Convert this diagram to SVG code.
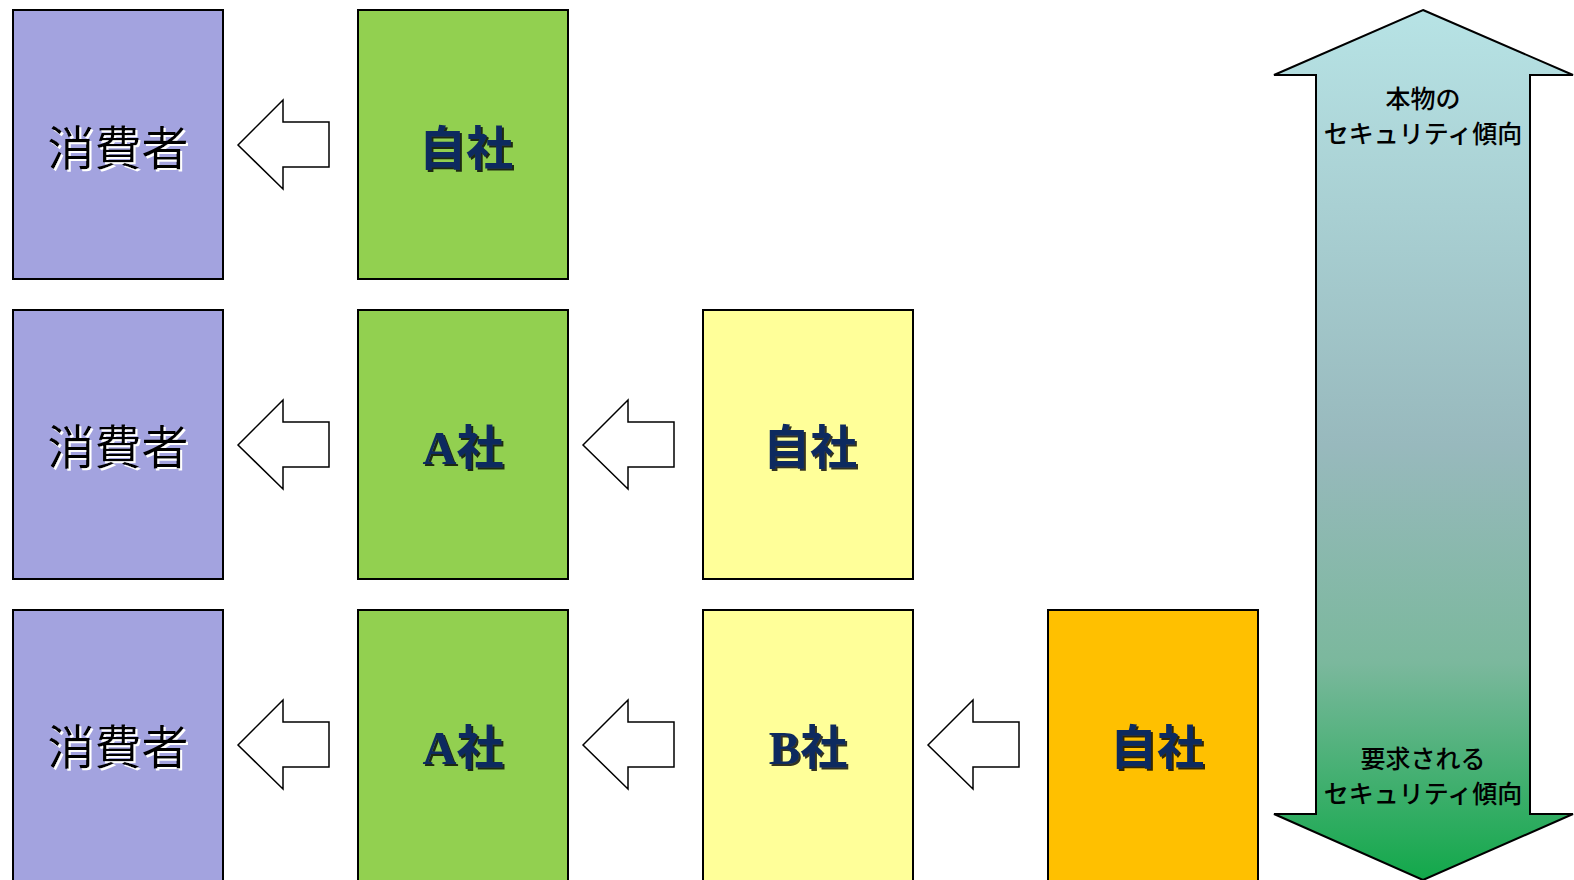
<svg xmlns="http://www.w3.org/2000/svg" width="1574" height="880" viewBox="0 0 1574 880">
<defs>
<style>
.box{stroke:#000;stroke-width:2}
.cons{fill:#A3A3DF}
.green{fill:#92D050}
.yel{fill:#FFFF99}
.org{fill:#FFC000}
.arr{fill:#fff;stroke:#000;stroke-width:1.5;stroke-linejoin:miter}
.t1{font-family:"Noto Sans CJK JP","Liberation Serif",serif;font-size:47px;fill:#000;text-anchor:middle;filter:url(#wsh)}
.t2{font-family:"Liberation Serif","Noto Sans CJK JP",serif;font-weight:bold;font-size:47px;fill:#0F2A5E;text-anchor:middle;filter:url(#ksh)}
.t3{font-family:"Noto Sans CJK JP","Liberation Sans",sans-serif;font-size:25px;font-weight:500;fill:#000;text-anchor:middle}
</style>
<filter id="wsh" x="-10%" y="-10%" width="130%" height="130%"><feDropShadow dx="2" dy="2" stdDeviation="0.3" flood-color="#fff"/></filter>
<filter id="ksh" x="-10%" y="-10%" width="130%" height="130%"><feDropShadow dx="2" dy="2" stdDeviation="0.3" flood-color="#000" flood-opacity="0.8"/></filter>
<linearGradient id="g" x1="0" y1="0" x2="0" y2="1">
<stop offset="0" stop-color="#B7E3E5"/>
<stop offset="0.5" stop-color="#98B9BD"/>
<stop offset="0.75" stop-color="#7BB89D"/>
<stop offset="1" stop-color="#12A84A"/>
</linearGradient>
</defs>
<g id="r1c1"><rect class="box cons" x="13" y="10" width="210" height="269"/><text class="t1" x="118" y="165">消費者</text></g>
<g id="r1c2"><rect class="box green" x="358" y="10" width="210" height="269"/><text class="t2" x="466" y="165">自社</text></g>
<g id="r2c1"><rect class="box cons" x="13" y="310" width="210" height="269"/><text class="t1" x="118" y="464">消費者</text></g>
<g id="r2c2"><rect class="box green" x="358" y="310" width="210" height="269"/><text class="t2" x="463" y="464">A社</text></g>
<g id="r2c3"><rect class="box yel" x="703" y="310" width="210" height="269"/><text class="t2" x="810" y="464">自社</text></g>
<g id="r3c1"><rect class="box cons" x="13" y="610" width="210" height="272"/><text class="t1" x="118" y="764">消費者</text></g>
<g id="r3c2"><rect class="box green" x="358" y="610" width="210" height="272"/><text class="t2" x="463" y="764">A社</text></g>
<g id="r3c3"><rect class="box yel" x="703" y="610" width="210" height="272"/><text class="t2" x="808" y="764">B社</text></g>
<g id="r3c4"><rect class="box org" x="1048" y="610" width="210" height="272"/><text class="t2" x="1157" y="764">自社</text></g>
<g id="trend"><path d="M1423 10 L1573 75 L1530 75 L1530 814 L1573 814 L1423 880 L1274 814 L1316 814 L1316 75 L1274 75 Z" fill="url(#g)" stroke="#000" stroke-width="2"/>
<text class="t3" x="1423" y="108">本物の</text><text class="t3" x="1423" y="143">セキュリティ傾向</text>
<text class="t3" x="1423" y="768">要求される</text><text class="t3" x="1423" y="803">セキュリティ傾向</text></g>
<g id="connectors">
<path class="arr" d="M238 145 L283 100 L283 122 L329 122 L329 167 L283 167 L283 189 Z"/>
<path class="arr" d="M238 445 L283 400 L283 422 L329 422 L329 467 L283 467 L283 489 Z"/>
<path class="arr" d="M583 445 L628 400 L628 422 L674 422 L674 467 L628 467 L628 489 Z"/>
<path class="arr" d="M238 745 L283 700 L283 722 L329 722 L329 767 L283 767 L283 789 Z"/>
<path class="arr" d="M583 745 L628 700 L628 722 L674 722 L674 767 L628 767 L628 789 Z"/>
<path class="arr" d="M928 745 L973 700 L973 722 L1019 722 L1019 767 L973 767 L973 789 Z"/>
</g>
</svg>
